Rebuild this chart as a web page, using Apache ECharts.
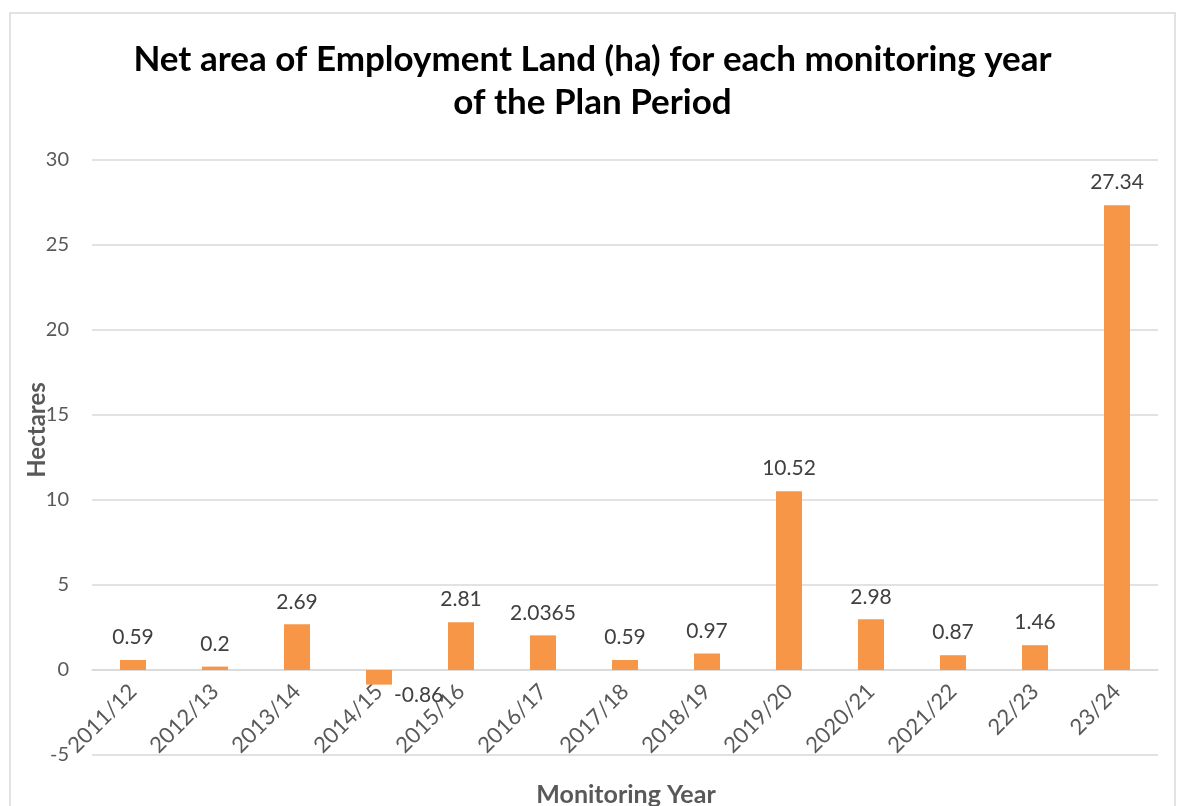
<!DOCTYPE html>
<html>
<head>
<meta charset="utf-8">
<script src="https://cdn.jsdelivr.net/npm/echarts@6/dist/echarts.min.js"></script>
<style>
  html, body { margin: 0; padding: 0; background: #fff; }
  #chart { width: 1185px; height: 806px; }
</style>
</head>
<body>
<div id="chart"></div>
<script>
// Monitoring years and net employment land (hectares)
const years = ['2011/12', '2012/13', '2013/14', '2014/15', '2015/16', '2016/17', '2017/18',
               '2018/19', '2019/20', '2020/21', '2021/22', '22/23', '23/24'];
const netArea = [0.59, 0.2, 2.69, -0.86, 2.81, 2.0365, 0.59, 0.97, 10.52, 2.98, 0.87, 1.46, 27.34];
const yTicks = { min: -5, max: 30, step: 5 };

const FONT = 'Lato, "Open Sans", sans-serif';
const GRID = { left: 92, right: 27, top: 160, bottom: 51 };
const chart = echarts.init(document.getElementById('chart'), null, { renderer: 'canvas' });

// Category axis sits on the zero line: shift it up from the plot bottom
const plotHeight = 806 - GRID.top - GRID.bottom;
const zeroShift = plotHeight * (0 - yTicks.min) / (yTicks.max - yTicks.min);

const seriesData = netArea.map(v => {
  if (v < 0) {
    return {
      value: v,
      label: { position: 'right', distance: 2, offset: [0, 18] }
    };
  }
  return v;
});

chart.setOption({
  backgroundColor: '#ffffff',
  animation: false,
  title: {
    text: 'Net area of Employment Land (ha) for each monitoring year\nof the Plan Period',
    left: 'center',
    top: 33,
    textStyle: {
      fontFamily: FONT,
      fontWeight: 'bold',
      fontSize: 35,
      lineHeight: 43,
      color: '#000000',
      align: 'center'
    }
  },
  grid: Object.assign({ containLabel: false, outerBoundsMode: 'none' }, GRID),
  xAxis: {
    type: 'category',
    data: years,
    offset: -zeroShift,
    axisLine: { onZero: false, lineStyle: { color: '#D9D9D9', width: 1.5 } },
    axisTick: { show: false },
    axisLabel: {
      rotate: 45,
      margin: 18,
      fontFamily: FONT,
      fontSize: 22,
      color: '#595959'
    }
  },
  yAxis: {
    type: 'value',
    min: yTicks.min,
    max: yTicks.max,
    interval: yTicks.step,
    axisLine: { show: false },
    axisTick: { show: false },
    splitLine: { lineStyle: { color: '#D9D9D9', width: 1.5 } },
    axisLabel: {
      margin: 23,
      fontFamily: FONT,
      fontSize: 20,
      color: '#595959'
    }
  },
  series: [{
    type: 'bar',
    data: seriesData,
    barWidth: '31.7%',
    itemStyle: { color: '#F79646' },
    label: {
      show: true,
      position: 'top',
      distance: 12,
      fontFamily: FONT,
      fontSize: 21,
      color: '#404040'
    }
  }],
  graphic: [
    {
      type: 'rect',
      shape: { x: 10, y: 13, width: 1165, height: 820 },
      style: { fill: null, stroke: '#D9D9D9', lineWidth: 1.5 },
      silent: true
    },
    {
      type: 'text',
      x: 37, y: 430,
      rotation: Math.PI / 2,
      style: {
        text: 'Hectares',
        fontFamily: FONT, fontWeight: 'bold', fontSize: 24,
        fill: '#595959', align: 'center', verticalAlign: 'middle'
      }
    },
    {
      type: 'text',
      x: 626, y: 795,
      style: {
        text: 'Monitoring Year',
        fontFamily: FONT, fontWeight: 'bold', fontSize: 25,
        fill: '#595959', align: 'center', verticalAlign: 'middle'
      }
    }
  ]
});
</script>
</body>
</html>
